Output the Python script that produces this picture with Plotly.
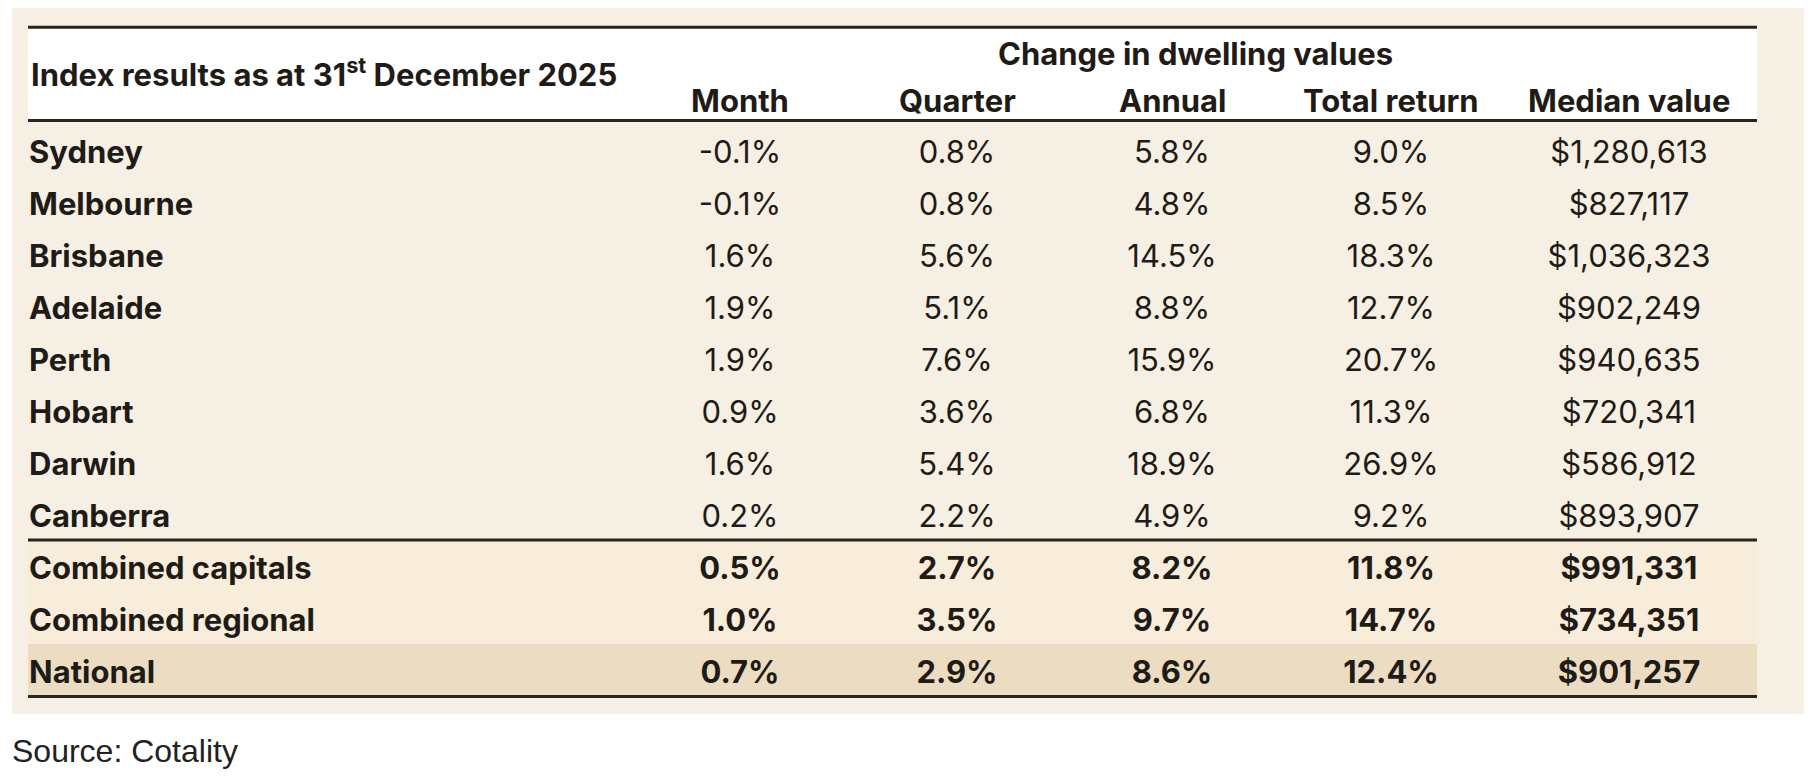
import plotly.graph_objects as go

# table data
CITIES = ["Sydney", "Melbourne", "Brisbane", "Adelaide", "Perth", "Hobart", "Darwin",
          "Canberra", "Combined capitals", "Combined regional", "National"]
MONTH = [-0.1, -0.1, 1.6, 1.9, 1.9, 0.9, 1.6, 0.2, 0.5, 1.0, 0.7]
QUARTER = [0.8, 0.8, 5.6, 5.1, 7.6, 3.6, 5.4, 2.2, 2.7, 3.5, 2.9]
ANNUAL = [5.8, 4.8, 14.5, 8.8, 15.9, 6.8, 18.9, 4.9, 8.2, 9.7, 8.6]
TOTAL_RETURN = [9.0, 8.5, 18.3, 12.7, 20.7, 11.3, 26.9, 9.2, 11.8, 14.7, 12.4]
MEDIAN_VALUE = [1280613, 827117, 1036323, 902249, 940635, 720341, 586912, 893907,
                991331, 734351, 901257]
COLUMNS = ["Month", "Quarter", "Annual", "Total return", "Median value"]
N_CITIES = 8  # rows above the thick divider, the rest are aggregates

TITLE = "Index results as at 31<sup>st</sup> December 2025"
GROUP_TITLE = "Change in dwelling values"
SOURCE = "Source: Cotality"

# layout (page pixels)
W, H = 1812, 778
PAGE_OFF = 8  # default body margin of the html page
ROW0_PX = 155.5
ROW_PX = 52
LABEL_X = 29
COL_X = [740, 957, 1172, 1391, 1629]
GROUP_X = 1195
TABLE_X0, TABLE_X1 = 28, 1757
PANEL_X0, PANEL_X1, PANEL_Y0, PANEL_Y1 = 12, 1806, 8, 714
TOP_LINE_PX, HEAD_LINE_PX = 27.3, 120.5
DIVIDER_PX, NATIONAL_PX, BOTTOM_PX = 540, 644, 696.5

FONT = "Inter"
SIZE = 31
TEXT = "#1f1b16"
LINE = "#2a241d"
PANEL_BG = "#f6efe4"
AGG_BG = "#f8ecda"
NAT_BG = "#ecdcc1"


def row(px):
    """page pixel y -> row units on the y axis"""
    return (px - ROW0_PX) / ROW_PX


def pct(values):
    return [f"{v:.1f}%" for v in values]


def bold_tail(texts):
    return [t if i < N_CITIES else f"<b>{t}</b>" for i, t in enumerate(texts)]


def main():
    fig = go.Figure()
    rows = list(range(len(CITIES)))
    font = dict(family=FONT, size=SIZE, color=TEXT)

    columns = [pct(MONTH), pct(QUARTER), pct(ANNUAL), pct(TOTAL_RETURN),
               [f"${v:,}" for v in MEDIAN_VALUE]]

    fig.add_trace(go.Scatter(
        x=[LABEL_X] * len(CITIES), y=rows,
        text=[f"<b>{c}</b>" for c in CITIES],
        mode="text", textposition="middle right",
        textfont=font, hoverinfo="skip"))

    for cx, col in zip(COL_X, columns):
        fig.add_trace(go.Scatter(
            x=[cx] * len(col), y=rows, text=bold_tail(col),
            mode="text", textposition="middle center",
            textfont=font, hoverinfo="skip"))

    shapes = [
        dict(type="rect", x0=PANEL_X0, x1=PANEL_X1, y0=row(PANEL_Y0), y1=row(PANEL_Y1),
             fillcolor=PANEL_BG, line_width=0, layer="below"),
        dict(type="rect", x0=TABLE_X0, x1=TABLE_X1, y0=row(TOP_LINE_PX), y1=row(HEAD_LINE_PX),
             fillcolor="white", line_width=0, layer="below"),
        dict(type="rect", x0=TABLE_X0, x1=TABLE_X1, y0=row(DIVIDER_PX), y1=row(NATIONAL_PX),
             fillcolor=AGG_BG, line_width=0, layer="below"),
        dict(type="rect", x0=TABLE_X0, x1=TABLE_X1, y0=row(NATIONAL_PX), y1=row(BOTTOM_PX),
             fillcolor=NAT_BG, line_width=0, layer="below"),
    ]
    for px in [TOP_LINE_PX, HEAD_LINE_PX, DIVIDER_PX, BOTTOM_PX]:
        shapes.append(dict(type="line", x0=TABLE_X0, x1=TABLE_X1, y0=row(px), y1=row(px),
                           line=dict(color=LINE, width=3)))

    annotations = [
        dict(x=LABEL_X, y=row(72.5), text=f"<b>{TITLE}</b>", xanchor="left", font=font),
        dict(x=GROUP_X, y=row(53.5), text=f"<b>{GROUP_TITLE}</b>", font=font),
        dict(x=PANEL_X0 - 2, y=row(751), text=SOURCE, xanchor="left",
             font=dict(family="Liberation Sans", size=32, color="#222222")),
    ]
    for cx, name in zip(COL_X, COLUMNS):
        annotations.append(dict(x=cx, y=row(100), text=f"<b>{name}</b>", font=font))
    for a in annotations:
        a.update(xref="x", yref="y", showarrow=False, yanchor="middle")

    fig.update_layout(
        width=W - PAGE_OFF, height=H - PAGE_OFF,
        margin=dict(l=0, r=0, t=0, b=0),
        paper_bgcolor="white", plot_bgcolor="white",
        showlegend=False,
        shapes=shapes, annotations=annotations,
        xaxis=dict(range=[PAGE_OFF, W], visible=False, fixedrange=True),
        yaxis=dict(range=[row(H), row(PAGE_OFF)], visible=False, fixedrange=True),
    )
    fig.write_html("out.html", config={"displayModeBar": False})


if __name__ == "__main__":
    main()
